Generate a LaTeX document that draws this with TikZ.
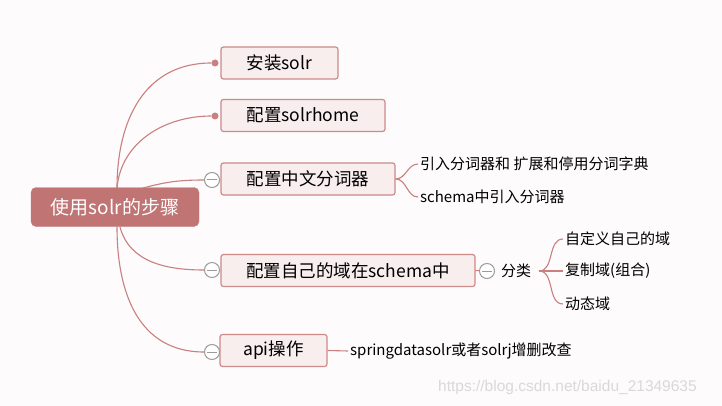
\documentclass[tikz,border=0pt]{standalone}
\usepackage{fontspec}
\setmainfont{Noto Sans CJK SC}
\newfontfamily\markfont{Liberation Sans}
\definecolor{rootred}{HTML}{C07474}
\definecolor{boxfill}{HTML}{F8EEEE}
\definecolor{boxline}{HTML}{CD8A8A}
\definecolor{linkred}{HTML}{C88080}
\definecolor{foldgray}{HTML}{9C9C9C}
\definecolor{paper}{HTML}{FDFBFB}

\begin{document}
\begin{tikzpicture}[x=1pt, y=-1pt,
    topic/.style={draw=boxline, fill=boxfill, line width=1.2pt, rounded corners=2.5pt,
      minimum height=32pt, inner sep=0pt, font=\fontsize{17.5}{20}\selectfont},
    leaf/.style={anchor=west, inner sep=2pt, font=\fontsize{15}{17}\selectfont},
    link/.style={draw=linkred, line width=1.1pt},
    fold/.style={circle, draw=foldgray, fill=white, line width=1pt, minimum size=15pt, inner sep=0pt,
      path picture={\draw[foldgray, line width=1pt]
        ([xshift=-5pt]path picture bounding box.center) -- ([xshift=5pt]path picture bounding box.center);}},
    pin/.style={circle, fill=linkred, minimum size=7pt, inner sep=0pt}
  ]
    \fill[paper] (0,0) rectangle (722,406);

    \node[fill=rootred, draw=rootred!90, rounded corners=5pt, minimum width=168pt, minimum height=39pt,
      inner sep=0pt, text=white, font=\fontsize{19}{22}\selectfont] (root) at (115,207) {使用solr的步骤};

    \node[topic, minimum width=117pt] (install) at (279.5,63) {安装solr};
    \node[topic, minimum width=164pt] (home) at (303,115.5) {配置solrhome};
    \node[topic, minimum width=174pt] (analyzer) at (308,179) {配置中文分词器};
    \node[topic, minimum width=254pt] (field) at (348,270.5) {配置自己的域在schema中};
    \node[topic, minimum width=107pt] (api) at (273.5,350.5) {api操作};

    \node[pin] (pinA) at (215,63) {};
    \node[pin] (pinB) at (215,116) {};
    \node[fold] (foldA) at (212,180) {};
    \node[fold] (foldB) at (212,270) {};
    \node[fold] (foldC) at (212,352) {};

    \coordinate (topA) at (117,188);
    \coordinate (topB) at (143,188);
    \coordinate (botA) at (120,227);
    \coordinate (botB) at (117,227);

    \draw[link] (topA) to[out=90, in=180, looseness=1.1] (pinA);
    \draw[link] (topA) to[out=85, in=180] (pinB);
    \draw[link] (topB) to[out=15, in=180] (foldA);
    \draw[link] (botA) to[out=-75, in=180] (foldB);
    \draw[link] (botB) to[out=-90, in=180, looseness=1.1] (foldC);

    \node[leaf] (dict) at (418,164) {引入分词器和 扩展和停用分词字典};
    \node[leaf] (import) at (418,197) {schema中引入分词器};
    \draw[link] (analyzer.east) to[out=0, in=180] (dict.west);
    \draw[link] (analyzer.east) to[out=0, in=180] (import.west);

    \node[fold] (foldD) at (487,271) {};
    \node[leaf] (kind) at (499,271) {分类};
    \draw[link] (field.east) -- (foldD);
    \node[leaf] (custom) at (563,239) {自定义自己的域};
    \node[leaf] (copy) at (563,271) {复制域(组合)};
    \node[leaf] (dynamic) at (563,304) {动态域};
    \coordinate (fork) at (539,271);
    \draw[link] (fork) to[out=0, in=180] (custom.west);
    \draw[link] (fork) -- (copy.west);
    \draw[link] (fork) to[out=0, in=180] (dynamic.west);

    \node[leaf] (crud) at (348,351) {springdatasolr或者solrj增删改查};
    \draw[link] (api.east) -- (crud.west);

    \node[anchor=west, inner sep=0pt, text=black!15, font=\markfont\fontsize{15.5}{18}\selectfont]
      (mark) at (438,387) {https://blog.csdn.net/baidu\_21349635};
\end{tikzpicture}
\end{document}
